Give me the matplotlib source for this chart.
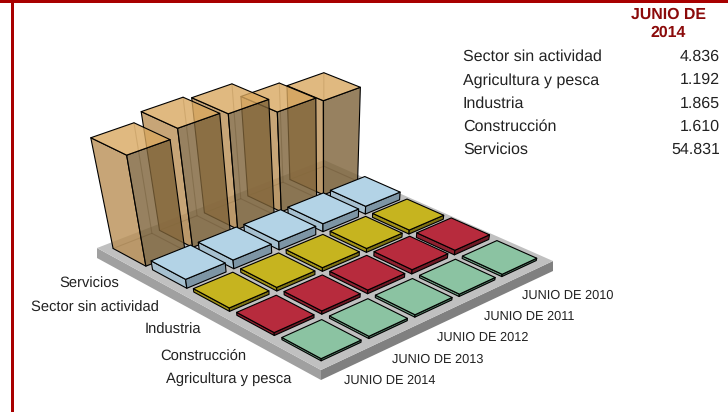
import matplotlib
matplotlib.use("Agg")
import matplotlib.pyplot as plt
import matplotlib.patches as mpatches
import numpy as np

plt.rcParams['font.family'] = ['Liberation Sans', 'DejaVu Sans']
plt.rcParams['text.hinting'] = 'none'

# columns run from the front corner to the right corner
years = ["JUNIO DE 2014", "JUNIO DE 2013", "JUNIO DE 2012", "JUNIO DE 2011", "JUNIO DE 2010"]

# rows run from the front corner to the left corner
agricultura = [1192, 1250, 1300, 1280, 1250]
construccion = [1610, 1800, 2000, 2300, 2500]
industria = [1865, 1950, 2000, 2100, 2150]
sin_actividad = [4836, 4700, 4500, 4300, 4200]
servicios = [54831, 58500, 57000, 50000, 47500]

table_names = ["Sector sin actividad", "Agricultura y pesca", "Industria", "Construcción", "Servicios"]
table_values = ["4.836", "1.192", "1.865", "1.610", "54.831"]

# top, left side, right side
green = ("#8bc3a2", "#6d9f82", "#4f7a62")
red = ("#b72b3d", "#8e2130", "#6f1925")
yellow = ("#c6b41f", "#a09118", "#7e7213")
blue = ("#b3d3e6", "#a6c0d0", "#7d95a5")
orange = ("#d9a860", "#b98f55", "#7d6238")

rows = [(agricultura, green), (construccion, red), (industria, yellow),
        (sin_actividad, blue), (servicios, orange)]

# floor corners in the picture, used to build the perspective
front, right, back, left = (321, 370), (553, 261), (324, 160), (97, 248)
vanish = np.array([325.0, 1300.0, 1.0])


def floor_matrix():
    src = [(0, 0), (1, 0), (1, 1), (0, 1)]
    dst = [front, right, back, left]
    A, b = [], []
    for (u, v), (x, y) in zip(src, dst):
        A.append([u, v, 1, 0, 0, 0, -u * x, -v * x])
        A.append([0, 0, 0, u, v, 1, -u * y, -v * y])
        b += [x, y]
    h = np.linalg.solve(np.array(A, float), np.array(b, float))
    return np.append(h, 1.0).reshape(3, 3)


H = floor_matrix()
k = -1.95e-6  # height per unit of value


def proj(u, v, z=0.0):
    p = H @ np.array([u, v, 1.0]) + z * k * vanish
    return p[0] / p[2], p[1] / p[2]


fig = plt.figure(figsize=(7.28, 4.12), dpi=100)
ax = fig.add_axes([0, 0, 1, 1])
ax.set_xlim(0, 728)
ax.set_ylim(412, 0)
ax.axis('off')


def face(pts, color, alpha=1.0, edge='black', lw=0.8, z=2):
    fc = matplotlib.colors.to_rgba(color, alpha)
    ax.add_patch(mpatches.Polygon(pts, closed=True, facecolor=fc, edgecolor=edge,
                                  linewidth=lw, joinstyle='round', zorder=z))


# frame
ax.add_patch(mpatches.Rectangle((0, 0), 728, 3, color="#a80000", lw=0, zorder=5))
ax.add_patch(mpatches.Rectangle((11, 0), 2.5, 412, color="#a80000", lw=0, zorder=5))

# floor slab
slab = 10
fx, fy = proj(0, 0)
rx, ry = proj(1, 0)
lx, ly = proj(0, 1)
face([(lx, ly), (fx, fy), (fx, fy + slab), (lx, ly + slab)], "#a0a0a0", edge='none', z=1)
face([(fx, fy), (rx, ry), (rx, ry + slab), (fx, fy + slab)], "#808080", edge='none', z=1)
face([proj(0, 0), proj(1, 0), proj(1, 1), proj(0, 1)], "#c0c0c0", edge='none', z=1)

# cell layout on the floor
margin_u, margin_v = 0.036, 0.036
tile = 0.16
gap = (1 - margin_u - margin_v - 5 * tile) / 4

z = 2
for j in range(4, -1, -1):
    vals, (c_top, c_left, c_right) = rows[j]
    is_bar = j == 4
    for i in range(4, -1, -1):
        u0 = margin_u + i * (tile + gap)
        v0 = margin_v + j * (tile + gap)
        u1, v1 = u0 + tile, v0 + tile
        h = vals[i]
        alpha = 0.8 if is_bar else 1.0
        if is_bar:
            # rear edges show through the translucent bars
            ax.plot(*zip(proj(u1, v1), proj(u1, v1, h)), color='black', lw=0.8, alpha=0.35, zorder=z)
            ax.plot(*zip(proj(u0, v1), proj(u1, v1), proj(u1, v0)), color='black', lw=0.8, alpha=0.35, zorder=z)
        face([proj(u0, v1), proj(u0, v0), proj(u0, v0, h), proj(u0, v1, h)], c_left, alpha, z=z)
        face([proj(u0, v0), proj(u1, v0), proj(u1, v0, h), proj(u0, v0, h)], c_right, alpha, z=z)
        face([proj(u0, v0, h), proj(u1, v0, h), proj(u1, v1, h), proj(u0, v1, h)], c_top, 0.8 if is_bar else 1.0, z=z)
        z += 0.01

# axis labels
ax.text(89, 283.5, "Servicios", fontsize=10.6, color="#222222", ha='center', va='center', zorder=6)
ax.text(94.5, 307.5, "Sector sin actividad", fontsize=10.6, color="#222222", ha='center', va='center', zorder=6)
ax.text(172.5, 329.5, "Industria", fontsize=10.6, color="#222222", ha='center', va='center', zorder=6)
ax.text(203.5, 355.5, "Construcción", fontsize=10.6, color="#222222", ha='center', va='center', zorder=6)
ax.text(228.5, 379.5, "Agricultura y pesca", fontsize=10.6, color="#222222", ha='center', va='center', zorder=6)

year_x = [390, 438, 483, 529, 568]
year_y = [380.5, 359.5, 337.5, 316.5, 295.5]
for name, x, y in zip(years, year_x, year_y):
    ax.text(x, y, name, fontsize=9.2, color="#222222", ha='center', va='center', zorder=6)

# table
ax.text(668, 14.5, "JUNIO DE", fontsize=11.4, fontweight='bold', color="#8b0a0a", ha='center', va='center')
ax.text(668, 32.5, "2014", fontsize=11.4, fontweight='bold', color="#8b0a0a", ha='center', va='center')
clip = mpatches.Rectangle((0, 0), 719, 412, transform=ax.transData)
for n, (name, val) in enumerate(zip(table_names, table_values)):
    y = 57 + n * 23.2
    ax.text(463, y, name, fontsize=11.5, color="#222222", ha='left', va='center')
    t = ax.text(720, y, val, fontsize=11.5, color="#222222", ha='right', va='center')
    t.set_clip_path(clip)
    t.set_clip_on(True)

fig.savefig("out.png", dpi=100)
